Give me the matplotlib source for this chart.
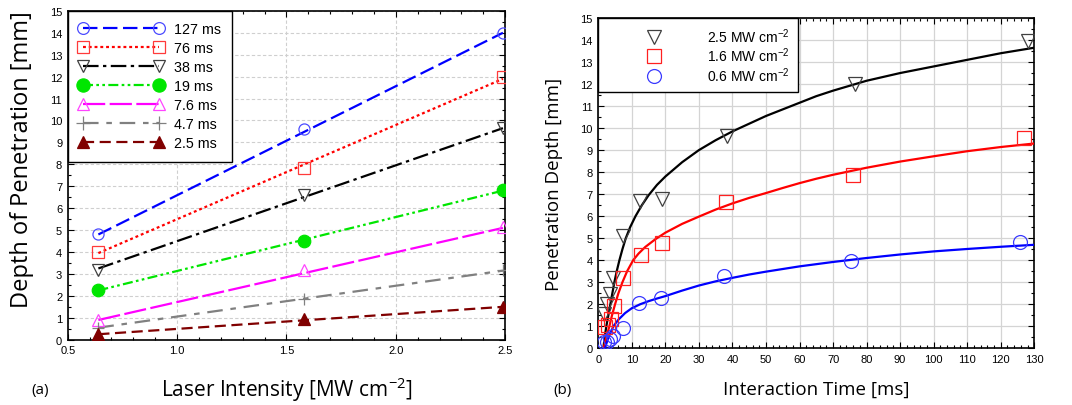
import numpy as np
import matplotlib.pyplot as plt
from matplotlib.lines import Line2D
from matplotlib.ticker import MultipleLocator

plt.rcParams['mathtext.default'] = 'regular'
plt.rcParams['font.family'] = ['Liberation Sans', 'DejaVu Sans']

# ===============================
# Data (a): penetration vs laser intensity
# ===============================
intensity = [0.64, 1.58, 2.49]
fit_x = [0.64, 2.49]

labels_a = ['127 ms', '76 ms', '38 ms', '19 ms', '7.6 ms', '4.7 ms', '2.5 ms']
depth_127 = [4.8, 9.6, 14.0]
depth_76 = [4.0, 7.85, 12.0]
depth_38 = [3.2, 6.6, 9.65]
depth_19 = [2.25, 4.5, 6.85]
depth_7p6 = [0.9, 3.2, 5.15]
depth_4p7 = [0.55, 1.85, 3.2]
depth_2p5 = [0.25, 0.95, 1.5]

fit_127 = [4.8, 14.0]
fit_76 = [3.95, 11.9]
fit_38 = [3.25, 9.65]
fit_19 = [2.25, 6.8]
fit_7p6 = [0.9, 5.1]
fit_4p7 = [0.55, 3.15]
fit_2p5 = [0.25, 1.5]

# ===============================
# Data (b): penetration vs interaction time
# ===============================
labels_b = ['2.5 MW cm$^{-2}$', '1.6 MW cm$^{-2}$', '0.6 MW cm$^{-2}$']
t_25 = [1.7, 2.7, 3.5, 4.3, 7.3, 12.5, 19.0, 38.3, 76.6, 128.0]
d_25 = [1.55, 2.0, 2.45, 3.2, 5.1, 6.7, 6.8, 9.65, 12.0, 13.95]
t_16 = [2.0, 3.0, 3.7, 4.8, 7.5, 12.6, 18.9, 38.0, 76.0, 127.0]
d_16 = [0.95, 1.05, 1.35, 1.9, 3.18, 4.25, 4.8, 6.65, 7.85, 9.55]
t_06 = [1.7, 2.5, 3.5, 4.5, 7.5, 12.1, 18.7, 37.6, 75.4, 125.7]
d_06 = [0.3, 0.27, 0.42, 0.58, 0.91, 2.06, 2.27, 3.27, 3.95, 4.81]

# fitted curves
ft_25 = [1.5, 2.0, 2.4, 3.0, 3.6, 4.2, 4.8, 5.5, 6.3, 7.2, 8.2, 9.5, 11.1, 13, 15, 17.5,
         20, 25, 30, 35, 40, 45, 50, 55, 60, 65, 70, 80, 90, 100, 110, 120, 130]
fd_25 = [0, 0.6, 1.0, 1.5, 2.0, 2.5, 3.0, 3.5, 4.0, 4.5, 5.0, 5.5, 6.0, 6.5, 6.95, 7.42,
         7.8, 8.45, 9.0, 9.45, 9.85, 10.2, 10.55, 10.85, 11.15, 11.45, 11.7, 12.15, 12.5,
         12.8, 13.1, 13.4, 13.65]
ft_16 = [1.6, 2.4, 3.3, 4.1, 5.0, 6.0, 7.2, 8.6, 10.4, 12, 14, 17, 20, 25, 30, 35, 40,
         45, 50, 55, 60, 65, 70, 80, 90, 100, 110, 120, 130]
fd_16 = [0, 0.5, 1.0, 1.5, 2.0, 2.5, 3.0, 3.5, 4.0, 4.3, 4.6, 4.95, 5.25, 5.65, 5.98,
         6.3, 6.58, 6.83, 7.05, 7.28, 7.5, 7.7, 7.88, 8.2, 8.48, 8.72, 8.95, 9.14, 9.3]
ft_06 = [2.0, 2.8, 3.5, 4.5, 6, 8, 10, 12.5, 15, 17.5, 20, 25, 30, 35, 40, 45, 50, 60,
         70, 80, 90, 100, 110, 120, 130]
fd_06 = [0, 0.4, 0.65, 1.0, 1.3, 1.6, 1.82, 2.0, 2.14, 2.26, 2.37, 2.62, 2.85, 3.04,
         3.2, 3.35, 3.48, 3.72, 3.92, 4.1, 4.26, 4.4, 4.51, 4.61, 4.7]

fig = plt.figure(figsize=(10.72, 4.06), dpi=100)
ax1 = fig.add_axes([0.0632, 0.1608, 0.408, 0.810])
ax2 = fig.add_axes([0.5581, 0.1397, 0.4067, 0.8135])

# ===============================
# Panel (a)
# ===============================
series_a = [depth_127, depth_76, depth_38, depth_19, depth_7p6, depth_4p7, depth_2p5]
fits_a = [fit_127, fit_76, fit_38, fit_19, fit_7p6, fit_4p7, fit_2p5]
line_cols = ['#0000ff', '#ff0000', '#000000', '#00e600', '#ff00ff', '#808080', '#800000']
mark_cols = ['#4b4bff', '#ff3a3a', '#404040', '#00e600', '#ff44ff', '#808080', '#800000']
markers = ['o', 's', 'v', 'o', '^', '+', '^']
filled = [False, False, False, True, False, False, True]
dashes = [(6.5, 2.5), (1.3, 1.3), (7, 2, 1.5, 2), (4.5, 1.5, 1.2, 1.5, 1.2, 1.5),
          (10, 2), (7, 3.5, 2.5, 3.5), (5, 2.5)]
msizes = [8, 8.5, 8, 9, 8, 9, 8.5]

handles = []
for vals, fit, lc, mc, m, f, d, ms in zip(series_a, fits_a, line_cols, mark_cols,
                                         markers, filled, dashes, msizes):
    ax1.plot(fit_x, fit, color=lc, lw=1.6, dashes=d, zorder=3)
    ax1.plot(intensity, vals, ls='none', marker=m, ms=ms, mec=mc, mew=0.9,
             mfc=mc if f else 'none', zorder=4)
    handles.append(Line2D([], [], color=lc, lw=1.6, dashes=d, marker=m, ms=ms + 0.5,
                          mec=mc, mew=0.9, mfc=mc if f else 'none'))

ax1.set_xlim(0.5, 2.5)
ax1.set_ylim(0, 15)
ax1.xaxis.set_major_locator(MultipleLocator(0.5))
ax1.xaxis.set_minor_locator(MultipleLocator(0.1))
ax1.yaxis.set_major_locator(MultipleLocator(1))
ax1.yaxis.set_minor_locator(MultipleLocator(0.5))
ax1.xaxis.set_major_formatter(plt.FormatStrFormatter('%.1f'))
ax1.grid(True, which='major', color='#cfcfcf', ls=(0, (3, 2)), lw=0.8)
ax1.set_axisbelow(True)

leg1 = ax1.legend(handles, labels_a, loc='upper left', bbox_to_anchor=(0, 1),
                  borderaxespad=0, numpoints=2, handlelength=5.9, handletextpad=0.7,
                  labelspacing=0.35, borderpad=0.8, fontsize=10.3, fancybox=False,
                  framealpha=1, edgecolor='black')
leg1.get_frame().set_linewidth(1.0)

ax1.set_xlabel('Laser Intensity [MW cm$^{-2}$]', family='Open Sans', fontsize=15, va='center')
ax1.xaxis.set_label_coords(0.5, -0.15)
ax1.set_ylabel('Depth of Penetration [mm]', family='Open Sans', fontsize=17, va='center')
ax1.yaxis.set_label_coords(-0.104, 0.55)
fig.text(40 / 1072, 1 - 390.5 / 406, '(a)', family='Open Sans', fontsize=11,
         ha='center', va='center')

# ===============================
# Panel (b)
# ===============================
ax2.plot(ft_25, fd_25, color='black', lw=1.6, zorder=3)
ax2.plot(ft_16, fd_16, color='#ff0000', lw=1.6, zorder=3)
ax2.plot(ft_06, fd_06, color='#0000ff', lw=1.6, zorder=3)
p1, = ax2.plot(t_25, d_25, ls='none', marker='v', ms=10, mfc='none', mec='#404040', mew=0.9, zorder=4)
p2, = ax2.plot(t_16, d_16, ls='none', marker='s', ms=10, mfc='none', mec='#ff2020', mew=0.9, zorder=4)
p3, = ax2.plot(t_06, d_06, ls='none', marker='o', ms=10, mfc='none', mec='#3a3aff', mew=0.9, zorder=4)

ax2.set_xlim(0, 130)
ax2.set_ylim(0, 15)
ax2.xaxis.set_major_locator(MultipleLocator(10))
ax2.xaxis.set_minor_locator(MultipleLocator(2))
ax2.yaxis.set_major_locator(MultipleLocator(1))
ax2.yaxis.set_minor_locator(MultipleLocator(0.5))
ax2.grid(True, which='major', color='#d4d4d4', lw=0.9)
ax2.set_axisbelow(True)

leg2 = ax2.legend([p1, p2, p3], labels_b, loc='upper left', bbox_to_anchor=(0, 1),
                  borderaxespad=0, numpoints=1, handlelength=6.86, handletextpad=0.38,
                  labelspacing=0.05, borderpad=0.6, fontsize=10, fancybox=False,
                  framealpha=1, edgecolor='black')
leg2.get_frame().set_linewidth(1.0)

ax2.set_xlabel('Interaction Time [ms]', family='Open Sans', fontsize=13.5, va='center')
ax2.xaxis.set_label_coords(0.5, -0.123)
ax2.set_ylabel('Penetration Depth [mm]', family='Open Sans', fontsize=13.5, va='center')
ax2.yaxis.set_label_coords(-0.102, 0.5)
fig.text(562 / 1072, 1 - 390.5 / 406, '(b)', family='Open Sans', fontsize=11,
         ha='center', va='center')

for ax in (ax1, ax2):
    ax.tick_params(which='both', direction='in', top=True, right=True,
                   labelsize=8, pad=4, width=0.8)
    ax.tick_params(which='major', length=4)
    ax.tick_params(which='minor', length=2.5)
    for s in ax.spines.values():
        s.set_linewidth(1.2)

fig.savefig('out.png', dpi=100)
